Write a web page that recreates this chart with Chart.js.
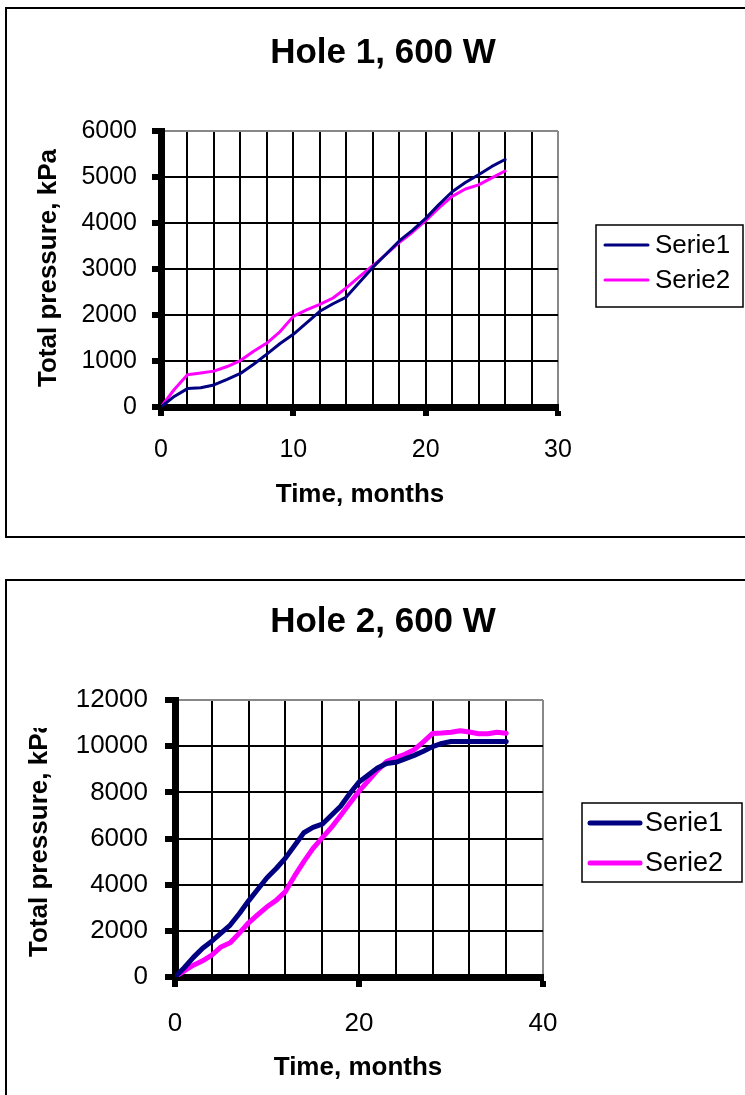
<!DOCTYPE html>
<html><head><meta charset="utf-8">
<script src="https://cdn.jsdelivr.net/npm/chart.js@4.4.0/dist/chart.umd.min.js"></script>
<style>
body{margin:0;background:#fff;width:745px;height:1095px;overflow:hidden;position:relative;}
.box{position:absolute;border:2px solid #000;box-sizing:border-box;}
#b1{left:5px;top:7px;width:760px;height:531px;}
#b2{left:5px;top:579px;width:760px;height:540px;}
.wrap{position:absolute;left:0;width:745px;}
#w1{top:0;height:545px;}
#w2{top:570px;height:525px;}
</style></head><body>
<div class="box" id="b1"></div><div class="box" id="b2"></div>
<div class="wrap" id="w1"><canvas id="c1"></canvas></div>
<div class="wrap" id="w2"><canvas id="c2"></canvas></div>
<script>
// ---------- data ----------
const hole1Months = [0,1,2,3,4,5,6,7,8,9,10,11,12,13,14,15,16,17,18,19,20,21,22,23,24,25,26];
const hole1Serie1 = [0,230,400,420,480,600,730,930,1150,1380,1580,1830,2080,2245,2390,2710,3035,3320,3610,3840,4100,4400,4680,4880,5050,5230,5380];
const hole1Serie2 = [0,380,700,740,780,880,1010,1210,1390,1640,1970,2110,2230,2370,2590,2835,3070,3320,3575,3800,4050,4330,4580,4740,4830,4980,5130];
const hole1XTickLabels = [0,10,20,30];
const hole1YTickLabels = [0,1000,2000,3000,4000,5000,6000];

const hole2Months = [0,1,2,3,4,5,6,7,8,9,10,11,12,13,14,15,16,17,18,19,20,21,22,23,24,25,26,27,28,29,30,31,32,33,34,35,36];
const hole2Serie1 = [0,400,850,1250,1550,1900,2250,2750,3300,3800,4300,4700,5150,5700,6250,6480,6620,7010,7400,7950,8450,8750,9050,9250,9300,9450,9600,9780,9980,10120,10200,10200,10200,10200,10200,10200,10200];
const hole2Serie2 = [0,260,510,700,950,1300,1480,1900,2350,2700,3040,3320,3700,4380,5000,5570,6030,6480,7000,7530,8050,8500,8950,9330,9500,9650,9850,10190,10550,10570,10600,10670,10610,10540,10540,10600,10560];
const hole2XTickLabels = [0,20,40];
const hole2YTickLabels = [0,2000,4000,6000,8000,10000,12000];

const seriesNames = ['Serie1','Serie2'];
const seriesColors = ['#000080','#FF00FF'];

// ---------- drawing ----------
const FONT = '"Liberation Sans", Arial, sans-serif';
Chart.defaults.font.family = FONT;
Chart.defaults.color = '#000';

const decor = {
  id: 'decor',
  afterDraw(chart, args, o) {
    const ctx = chart.ctx;
    ctx.save();
    ctx.fillStyle = '#000';
    ctx.textAlign = 'center'; ctx.textBaseline = 'middle';
    ctx.font = `bold ${o.titleSize}px ${FONT}`;
    ctx.fillText(o.title, o.titleX, o.titleY);
    ctx.font = `bold ${o.axisSize}px ${FONT}`;
    ctx.fillText(o.xTitle, o.xTitleX, o.xTitleY);
    ctx.save();
    if (o.yClipTop != null) { ctx.beginPath(); ctx.rect(0, o.yClipTop, chart.width, chart.height); ctx.clip(); }
    ctx.translate(o.yTitleX, o.yTitleY); ctx.rotate(-Math.PI / 2);
    ctx.textAlign = o.yTitleAlign;
    ctx.fillText(o.yTitle, 0, 0);
    ctx.restore();
    const L = o.legend;
    ctx.lineWidth = 1.5; ctx.strokeStyle = '#000';
    ctx.strokeRect(L.x, L.y, L.w, L.h);
    ctx.font = `${L.size}px ${FONT}`; ctx.textAlign = 'left';
    chart.data.datasets.forEach((ds, i) => {
      const y = L.y + L.first + i * L.gap;
      ctx.strokeStyle = ds.borderColor; ctx.lineWidth = L.lw; ctx.lineCap = 'round';
      ctx.beginPath(); ctx.moveTo(L.x + L.l0, y); ctx.lineTo(L.x + L.l1, y); ctx.stroke();
      ctx.fillStyle = '#000'; ctx.fillText(ds.label, L.x + L.tx, y + 1);
    });
    ctx.restore();
  }
};

function makeChart(id, c) {
  const W = 745, H = c.height;
  const datasets = [c.s1, c.s2].map((s, k) => ({
    label: seriesNames[k],
    data: c.months.map((m, i) => ({ x: m, y: s[i] })),
    borderColor: seriesColors[k], backgroundColor: seriesColors[k],
    borderWidth: c.lineW, pointRadius: 0, tension: 0,
    borderCapStyle: 'round', borderJoinStyle: 'round', fill: false
  }));
  const xMax = c.xLabels[c.xLabels.length - 1];
  const yMax = c.yLabels[c.yLabels.length - 1];
  const xMajor = c.xLabels[1] - c.xLabels[0];
  return new Chart(document.getElementById(id), {
    type: 'line',
    data: { datasets },
    plugins: [decor],
    options: {
      responsive: true, maintainAspectRatio: false, animation: false,
      layout: { padding: { left: 0, top: c.area.top, right: W - c.area.right, bottom: H - c.area.bottom - 90 } },
      plugins: { legend: { display: false }, tooltip: { enabled: false }, title: { display: false }, decor: c.decor },
      scales: {
        x: {
          type: 'linear', min: 0, max: xMax,
          afterFit: s => { s.height = 90; },
          ticks: {
            stepSize: c.xGrid, autoSkip: false, maxRotation: 0, padding: c.xPad,
            font: { size: c.tickSize }, color: '#000',
            callback: v => (c.xLabels.includes(v) ? String(v) : '')
          },
          grid: {
            color: ctx => (ctx.tick && ctx.tick.value === xMax ? '#888' : '#000'),
            lineWidth: 2, tickLength: c.tickLen,
            tickWidth: ctx => (ctx.tick && ctx.tick.value % xMajor === 0 ? 6 : 0),
            tickColor: ctx => (ctx.tick && ctx.tick.value % xMajor === 0 ? '#000' : 'rgba(0,0,0,0)')
          },
          border: { display: true, color: '#000', width: 7 }
        },
        y: {
          min: 0, max: yMax,
          afterFit: s => { s.width = c.area.left; },
          ticks: {
            stepSize: c.yLabels[1], autoSkip: false, padding: c.yPad, font: { size: c.tickSize }, color: '#000',
            callback: v => (c.yLabels.includes(v) ? String(v) : '')
          },
          grid: {
            color: ctx => (ctx.tick && ctx.tick.value === yMax ? '#888' : '#000'),
            lineWidth: 2, tickLength: c.tickLen, tickWidth: 6, tickColor: '#000'
          },
          border: { display: true, color: '#000', width: 7 }
        }
      }
    }
  });
}

makeChart('c1', {
  height: 545, months: hole1Months, s1: hole1Serie1, s2: hole1Serie2,
  xLabels: hole1XTickLabels, yLabels: hole1YTickLabels, xGrid: 2, lineW: 3, tickSize: 25,
  area: { left: 161, right: 558, top: 131, bottom: 407 }, tickLen: 9, xPad: 19, yPad: 15,
  decor: {
    title: 'Hole 1, 600 W', titleSize: 35, titleX: 383, titleY: 53,
    axisSize: 26, xTitle: 'Time, months', xTitleX: 360, xTitleY: 495,
    yTitle: 'Total pressure, kPa', yTitleX: 49, yTitleY: 268, yTitleAlign: 'center', yClipTop: null,
    legend: { x: 596, y: 225, w: 147, h: 82, first: 20, gap: 35, l0: 9, l1: 52, tx: 59, lw: 3, size: 26 }
  }
});

makeChart('c2', {
  height: 525, months: hole2Months, s1: hole2Serie1, s2: hole2Serie2,
  xLabels: hole2XTickLabels, yLabels: hole2YTickLabels, xGrid: 4, lineW: 5, tickSize: 26,
  area: { left: 175, right: 543, top: 130, bottom: 407 }, tickLen: 10, xPad: 21, yPad: 17,
  decor: {
    title: 'Hole 2, 600 W', titleSize: 35, titleX: 383, titleY: 52,
    axisSize: 26, xTitle: 'Time, months', xTitleX: 358, xTitleY: 498,
    yTitle: 'Total pressure, kPa', yTitleX: 40, yTitleY: 387, yTitleAlign: 'left', yClipTop: 158,
    legend: { x: 582, y: 233, w: 160, h: 79, first: 20, gap: 40, l0: 8, l1: 58, tx: 63, lw: 5, size: 27 }
  }
});
</script>
</body></html>
